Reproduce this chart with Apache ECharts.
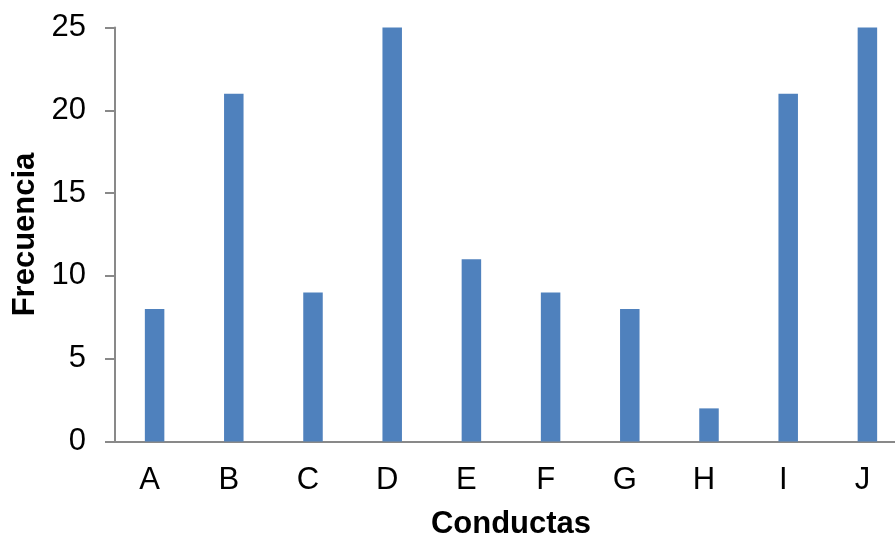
<!DOCTYPE html>
<html>
<head>
<meta charset="utf-8">
<script src="https://cdn.jsdelivr.net/npm/echarts@6/dist/echarts.min.js"></script>
<style>
  html, body { margin: 0; padding: 0; background: #fff; }
  #chart { width: 895px; height: 538px; }
</style>
</head>
<body>
<div id="chart"></div>
<script>
// Frequency of each behaviour category
const categories = ['A', 'B', 'C', 'D', 'E', 'F', 'G', 'H', 'I', 'J'];
const frecuencia = [8, 21, 9, 25, 11, 9, 8, 2, 21, 25];
const yTicks = { min: 0, max: 25, interval: 5 };

const FONT = '"Liberation Sans", Arial, sans-serif';
const AXIS_GRAY = '#898989';

const chart = echarts.init(document.getElementById('chart'), null, { renderer: 'canvas' });
chart.setOption({
  animation: false,
  backgroundColor: '#ffffff',
  grid: {
    left: 115, top: 27.5, right: -12, bottom: 96.5,
    containLabel: false,
    outerBoundsMode: 'none'
  },
  xAxis: {
    type: 'category',
    data: categories,
    name: 'Conductas',
    nameLocation: 'middle',
    nameGap: 67,
    nameTextStyle: { fontFamily: FONT, fontSize: 31, fontWeight: 'bold', color: '#000' },
    axisLine: { show: true, lineStyle: { color: AXIS_GRAY, width: 2 } },
    axisTick: { show: false },
    axisLabel: {
      fontFamily: FONT, fontSize: 31, color: '#000', margin: 23,
      padding: [0, 10, 0, 0]
    },
    splitLine: { show: false }
  },
  yAxis: {
    type: 'value',
    min: yTicks.min,
    max: yTicks.max,
    interval: yTicks.interval,
    name: 'Frecuencia',
    nameLocation: 'middle',
    nameGap: 73,
    nameTextStyle: { fontFamily: FONT, fontSize: 31, fontWeight: 'bold', color: '#000' },
    axisLine: { show: true, lineStyle: { color: AXIS_GRAY, width: 2 } },
    axisTick: { show: true, length: 10, lineStyle: { color: AXIS_GRAY, width: 2 } },
    axisLabel: { fontFamily: FONT, fontSize: 31, color: '#000', margin: 29 },
    splitLine: { show: false }
  },
  series: [{
    type: 'bar',
    data: frecuencia,
    barWidth: 19.5,
    itemStyle: { color: '#4F81BD' }
  }]
});
</script>
</body>
</html>
